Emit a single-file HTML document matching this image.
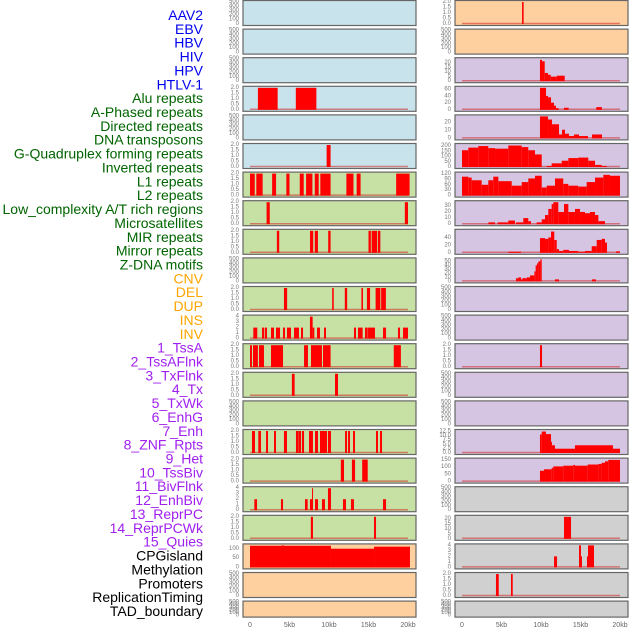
<!DOCTYPE html>
<html><head><meta charset="utf-8"><style>
html,body{margin:0;padding:0;background:#fff;width:630px;height:630px;overflow:hidden}
svg{display:block;font-family:"Liberation Sans",sans-serif}
</style></head><body>
<svg id="chart" width="630" height="630" viewBox="0 0 630 630"></svg>
<script>
// ---- data ----
const trackLabels = ["AAV2","EBV","HBV","HIV","HPV","HTLV-1","Alu repeats","A-Phased repeats","Directed repeats","DNA transposons","G-Quadruplex forming repeats","Inverted repeats","L1 repeats","L2 repeats","Low_complexity A/T rich regions","Microsatellites","MIR repeats","Mirror repeats","Z-DNA motifs","CNV","DEL","DUP","INS","INV","1_TssA","2_TssAFlnk","3_TxFlnk","4_Tx","5_TxWk","6_EnhG","7_Enh","8_ZNF_Rpts","9_Het","10_TssBiv","11_BivFlnk","12_EnhBiv","13_ReprPC","14_ReprPCWk","15_Quies","CPGisland","Methylation","Promoters","ReplicationTiming","TAD_boundary"];
const labelGroups = ["v","v","v","v","v","v","r","r","r","r","r","r","r","r","r","r","r","r","r","s","s","s","s","s","c","c","c","c","c","c","c","c","c","c","c","c","c","c","c","o","o","o","o","o"];
const groupColors = {v:"#0000ee",r:"#006400",s:"#ffa500",c:"#a020f0",o:"#000000"};
const groupFills = {v:"#c8e3eb",r:"#c7e0a3",s:"#fecf9f",c:"#d5c5e2",o:"#d0d0d0"};
const xTicks = [0,5,10,15,20];
const xTickLabels = ["0","5kb","10kb","15kb","20kb"];
const E=["0","100","200","300","400","500"], T2=["0.0","0.5","1.0","1.5","2.0"], T4=["0","1","2","3","4"];
// per panel: max, tick values, tick labels, bars [startKb,endKb,value]
const panelMax = [500,500,500,2,500,2,2,2,2,500,2,4,2,2,500,2,2,4,2,120,500,500,
                  2,500,24,65,28,210,122,36,60,55,500,500,2,500,500,12.8,152,500,22,4,2,500];
const panelTickLabels = [E,E,E,T2,E,T2,T2,T2,T2,E,T2,T4,T2,T2,E,T2,T2,T4,T2,["0","50","100"],E,E,
  T2,E,["0","5","10","15","20"],["0","20","40","60"],["0","10","20"],["0","50","100","150","200"],["0","30","60","90","120"],["0","10","20","30"],["0","20","40"],["0","10","20","30","40","50"],E,E,T2,E,E,["0.0","2.5","5.0","7.5","10.0","12.5"],["0","50","100","150"],E,["0","5","10","15","20"],T4,T2,E];
const panelBars = [
 [],[],[],
 [[1.0,3.5,2],[5.8,8.4,2]],
 [],
 [[9.7,10.2,2]],
 [[0,0.6,2],[0.8,1.6,2],[2.8,3.3,2],[4.6,5.0,2],[6.3,6.8,2],[7.1,7.9,2],[8.2,8.7,2],[8.9,10.2,2],[12.2,13.1,2],[13.5,14.0,2],[18.5,20.2,2]],
 [[2.1,2.5,2],[19.6,20.0,2]],
 [[3.4,3.7,2],[7.6,8.0,2],[8.2,8.6,2],[9.9,10.2,2],[15.0,15.3,2],[15.4,16.1,2],[16.2,16.5,2]],
 [],
 [[4.3,4.7,2],[10.4,10.6,2],[12.0,12.3,2],[14.1,14.3,2],[14.8,15.2,2],[15.9,16.5,2],[16.6,17.2,2]],
 [[0.42,0.92,2],[1.52,1.81,2],[1.9,2.15,2],[2.66,3.04,2],[3.29,3.8,2],[4.18,4.43,2],[4.68,5.19,2],[5.57,6.2,2],[6.46,6.71,2],[7.59,7.93,4],[7.93,8.14,2],[8.48,8.86,2],[9.37,9.62,2],[13.16,13.42,2],[13.67,14.26,2],[14.56,14.9,2],[14.94,15.82,2],[16.84,17.22,2],[18.73,18.99,2],[19.37,20.0,2]],
 [[0,0.25,2],[0.38,1.0,2],[1.14,1.77,2],[2.66,4.18,2],[6.84,7.34,2],[7.72,9.11,2],[9.24,10.2,2],[18.2,19.1,2]],
 [[5.3,5.65,2],[10.76,11.14,2]],
 [],
 [[0.25,0.63,2],[1.05,1.39,2],[2.03,2.28,2],[3.04,3.29,2],[4.3,4.68,2],[5.82,6.08,2],[6.11,6.46,2],[6.58,6.84,2],[7.47,7.97,2],[8.23,8.61,2],[8.86,9.75,2],[9.87,10.25,2],[12.03,12.28,2],[12.41,12.66,2],[13.04,13.29,2],[15.95,16.2,2],[16.46,16.71,2]],
 [[11.5,11.9,2],[12.9,13.3,2],[14.2,14.9,2]],
 [[0.55,0.89,2],[3.92,4.18,2],[6.96,7.3,2],[7.59,7.93,2],[7.85,7.97,4],[8.23,8.61,2],[9.11,9.49,2],[9.87,10.25,4],[11.77,12.15,2],[12.78,13.16,2],[16.84,17.22,2]],
 [[7.7,7.97,2],[15.7,15.95,2]],
 [[0,10.25,118],[4.1,4.2,122],[10.25,15.7,102],[15.7,20.25,113]],
 [],[],
 // right column
 [[7.6,7.8,2]],
 [],
 [[9.87,10.13,23.3],[10.13,10.47,21.7],[10.47,10.89,9],[10.89,11.23,7],[11.23,11.99,5],[11.99,13.0,6]],
 [[9.87,10.63,65],[10.63,10.89,41],[10.89,11.27,37],[11.27,11.65,21],[11.65,11.9,12],[11.9,12.24,5],[12.9,13.5,6],[17.0,17.7,8]],
 [[9.87,10.89,28],[10.89,11.39,24],[11.39,12.28,18],[12.28,12.66,5],[12.66,13.04,11],[13.04,13.54,6],[13.54,14.18,3],[14.18,14.81,5],[14.81,15.95,3],[16.46,17.72,5]],
 [[0,0.8,160],[0.8,2.06,185],[2.06,3.33,200],[3.33,4.18,180],[4.18,5.86,175],[5.86,7.56,205],[7.56,8.39,190],[8.39,9.24,160],[9.24,10.09,120],[10.72,11.35,10],[11.35,12.62,35],[12.62,13.46,60],[13.46,14.72,85],[14.72,15.99,90],[15.99,16.84,60],[16.84,17.68,20],[17.68,18.32,10]],
 [[0,0.8,105],[0.8,1.22,100],[1.22,2.49,85],[2.49,3.33,60],[3.33,3.96,85],[3.96,4.6,105],[4.6,6.29,80],[6.29,7.56,55],[7.56,8.39,75],[8.39,9.24,95],[9.24,10.09,110],[10.09,10.72,45],[10.72,11.77,55],[11.77,12.82,95],[12.82,13.46,65],[13.46,14.72,55],[14.72,15.78,50],[15.78,16.84,75],[16.84,17.89,100],[17.89,18.73,115],[18.73,20.0,110]],
 [[3.33,4.18,3],[4.51,5.86,3],[5.86,6.71,6],[6.84,7.76,3],[7.76,8.39,10],[8.39,8.73,5],[9.45,10.09,3],[10.09,10.51,8],[10.51,10.93,15],[10.93,11.35,25],[11.35,11.56,33],[11.56,12.19,36],[12.19,12.91,20],[12.91,13.46,33],[13.46,14.3,20],[14.3,14.94,25],[14.94,15.57,20],[15.57,16.2,18],[16.2,16.84,20],[16.84,17.26,15],[17.26,18.1,5]],
 [[5.86,7.47,3],[9.87,10.51,40],[10.51,10.93,38],[10.93,11.27,42],[11.27,11.68,58],[11.68,11.99,35],[11.99,12.28,10],[12.28,12.82,5],[12.82,13.54,8],[13.54,14.72,5],[14.72,15.57,3],[15.57,16.42,5],[16.42,17.05,18],[17.05,17.68,35],[17.68,18.1,38],[18.1,18.35,28],[19.49,20.0,4]],
 [[6.84,7.13,8],[7.13,7.47,10],[7.47,7.64,5],[7.64,8.19,8],[8.19,8.61,10],[8.61,9.16,15],[9.16,9.32,25],[9.32,9.49,40],[9.49,9.66,45],[9.66,9.92,50],[9.92,10.09,55],[11.77,12.28,5],[16.46,16.96,5]],
 [],[],
 [[9.87,10.13,2]],
 [],[],
 [[9.87,10.09,10.8],[10.09,10.63,12.5],[10.63,11.27,11],[11.27,11.39,6.5],[11.39,11.77,4.5],[11.77,14.3,2.5],[14.3,19.11,4.5],[19.11,20.0,2.5]],
 [[9.87,10.38,75],[10.38,11.35,85],[11.35,11.56,95],[11.56,12.82,105],[12.82,14.09,110],[14.09,14.3,115],[14.3,15.91,110],[15.91,17.26,118],[17.26,17.68,122],[17.68,18.1,130],[18.1,18.52,140],[18.52,20.0,150]],
 [],
 [[12.91,13.8,22]],
 [[11.65,12.03,2],[14.81,15.06,4],[15.06,15.18,2],[15.82,16.04,2],[15.95,16.71,4]],
 [[4.3,4.65,2],[6.2,6.42,2]],
 []
];
// ---- drawing ----
const NS="http://www.w3.org/2000/svg";
const svg=document.getElementById('chart');
function mk(tag,attrs,parent){const e=document.createElementNS(NS,tag);for(const k in attrs)e.setAttribute(k,attrs[k]);(parent||svg).appendChild(e);return e;}
const colX=[243,455], colZero=[250,462], pxPerKb=7.9, panelW=173;
function xScale(col,kb){return colZero[col]+kb*pxPerKb;}
function rowTop(r){return 0.5+r*28.6;}
function rowH(r){return r===21?16:25;}
// labels
trackLabels.forEach((t,i)=>{
  const el=mk('text',{x:203,y:15+i*13.86,'text-anchor':'end','dominant-baseline':'central','font-size':14,fill:groupColors[labelGroups[i]]});
  el.textContent=t;
  
  
});
for(let p=0;p<44;p++){
  const col=p<22?0:1, r=p%22;
  const top=rowTop(r), h=rowH(r), bot=top+h;
  const max=panelMax[p];
  const yS=v=>bot-1.5-v/max*(h-3);
  const g=mk('g',{});
  
  
  const bg=mk('rect',{x:colX[col],y:top,width:panelW,height:h,fill:groupFills[labelGroups[p]]},g);
  
  
  const labs=panelTickLabels[p];
  labs.forEach(lb=>{
    const v=parseFloat(lb);
    const t=mk('text',{x:colX[col]-4,y:yS(v),'text-anchor':'end','dominant-baseline':'central','font-size':6,fill:'#777'},g);
    t.textContent=lb;
    
    
  });
  const bars=panelBars[p];
  if(bars.length){
    const bl=mk('line',{x1:xScale(col,0),x2:xScale(col,20),y1:yS(0)-0.5,y2:yS(0)-0.5,stroke:'rgba(210,40,40,0.55)','stroke-width':1.5},g);
    
    
  }
  bars.forEach(b=>{
    const x1=xScale(col,b[0]), x2=xScale(col,b[1]);
    const r2=mk('rect',{x:x1,y:yS(b[2]),width:Math.max(1,x2-x1),height:yS(0)-yS(b[2]),fill:'#ff0000'},g);
    
    
  });
  const br=mk('rect',{x:colX[col],y:top,width:panelW,height:h,fill:'none',stroke:'#666','stroke-width':1.2},g);
  
  
}
for(let col=0;col<2;col++){
  xTicks.forEach((v,i)=>{
    const t=mk('text',{x:xScale(col,v),y:627,'text-anchor':'middle','font-size':7,fill:'#666'});
    t.textContent=xTickLabels[i];
    
    
  });
}
</script>
</body></html>
